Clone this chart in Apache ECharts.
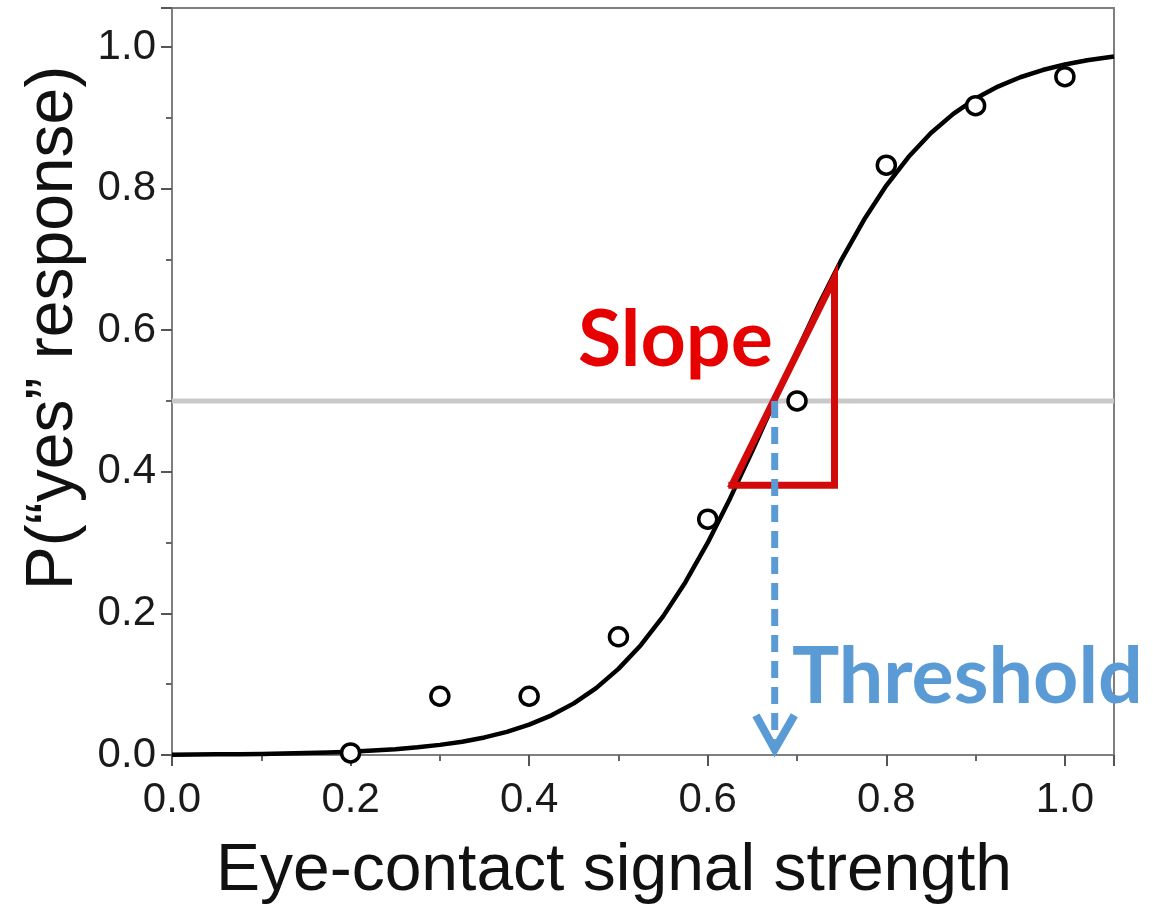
<!DOCTYPE html>
<html><head><meta charset="utf-8">
<script src="https://cdn.jsdelivr.net/npm/echarts@6/dist/echarts.min.js"></script>
<style>html,body{margin:0;padding:0;background:#fff}#c{width:1153px;height:908px}</style>
</head><body><div id="c"></div>
<script>
// ---- data ----
const axisMax = 1.055;
const tickStep = 0.2;
const xTitle = 'Eye-contact signal strength';
const yTitle = 'P(\u201cyes\u201d response)';
const pointX = [0.2, 0.3, 0.4, 0.5, 0.6, 0.7, 0.8, 0.9, 1.0];
const pointY = [0.003, 0.083, 0.083, 0.167, 0.333, 0.5, 0.833, 0.917, 0.958];
const curveX = [0.0, 0.025, 0.05, 0.075, 0.1, 0.125, 0.15, 0.175, 0.2, 0.225, 0.25, 0.275, 0.3, 0.325, 0.35, 0.375, 0.4, 0.425, 0.45, 0.475, 0.5, 0.525, 0.55, 0.575, 0.6, 0.625, 0.65, 0.675, 0.7, 0.725, 0.75, 0.775, 0.8, 0.825, 0.85, 0.875, 0.9, 0.925, 0.95, 0.975, 1.0, 1.025, 1.055];
const curveY = [0.0005, 0.0007, 0.0009, 0.0011, 0.0015, 0.0020, 0.0027, 0.0035, 0.0046, 0.0062, 0.0081, 0.0108, 0.0143, 0.0188, 0.0248, 0.0326, 0.0428, 0.0560, 0.0729, 0.0945, 0.1216, 0.1551, 0.1958, 0.2441, 0.2999, 0.3624, 0.4298, 0.5000, 0.5702, 0.6376, 0.7001, 0.7559, 0.8042, 0.8449, 0.8784, 0.9055, 0.9271, 0.9440, 0.9572, 0.9674, 0.9752, 0.9812, 0.9865];
const thresholdX = 0.675;
const thresholdY = 0.5;
const slopeX = [0.627, 0.742, 0.742, 0.627];
const slopeY = [0.381, 0.674, 0.381, 0.381];
const arrowX = [0.654, 0.675, 0.697];
const arrowY = [0.056, 0.008, 0.056];
const dashEndY = 0.02;

const chart = echarts.init(document.getElementById('c'), null, {renderer: 'canvas'});
const zip = (xs, ys) => xs.map((x, i) => [x, ys[i]]);
const fontAxis = '"Liberation Sans", Arial, sans-serif';
const isTick = v => Math.abs(v / tickStep - Math.round(v / tickStep)) < 1e-6;

const axisCommon = {
  type: 'value', min: 0, max: axisMax, interval: tickStep,
  axisLine: {show: true, lineStyle: {color: '#7f7f7f', width: 2}},
  axisTick: {show: true, length: 11, lineStyle: {color: '#555', width: 2}},
  minorTick: {show: true, splitNumber: 2, length: 6, lineStyle: {color: '#666', width: 2}},
  splitLine: {show: false},
  minorSplitLine: {show: false},
  axisLabel: {
    fontSize: 42, color: '#1a1a1a', fontFamily: fontAxis, showMaxLabel: false,
    formatter: v => isTick(v) ? v.toFixed(1) : ''
  }
};

chart.setOption({
  animation: false,
  backgroundColor: '#fff',
  grid: {left: 172, right: 39, top: 8, bottom: 153, show: true, borderColor: '#7f7f7f', borderWidth: 2, containLabel: false, outerBoundsMode: 'none'},
  xAxis: Object.assign({}, axisCommon, {
    axisLabel: Object.assign({}, axisCommon.axisLabel, {margin: 24})
  }),
  yAxis: Object.assign({}, axisCommon, {
    axisLabel: Object.assign({}, axisCommon.axisLabel, {margin: 16})
  }),
  series: [
    {
      type: 'line', z: 1, data: [[0, thresholdY], [axisMax, thresholdY]],
      symbol: 'none', silent: true,
      lineStyle: {color: '#c9c9c9', width: 5}
    },
    {
      type: 'line', z: 2, data: zip(curveX, curveY), smooth: false,
      symbol: 'none', lineStyle: {color: '#000', width: 4.5, join: 'round'}
    },
    {
      type: 'scatter', z: 3, data: zip(pointX, pointY), symbol: 'circle', symbolSize: 18,
      itemStyle: {color: '#fff', borderColor: '#000', borderWidth: 3.5, opacity: 1}
    },
    {
      type: 'line', z: 4, data: zip(slopeX, slopeY), symbol: 'none',
      lineStyle: {color: '#d20a0a', width: 7, join: 'miter', cap: 'square'}
    },
    {
      type: 'line', z: 5, data: [[thresholdX, thresholdY], [thresholdX, dashEndY]], symbol: 'none',
      lineStyle: {color: '#5b9bd5', width: 7, type: [17, 9]}
    },
    {
      type: 'line', z: 5, data: zip(arrowX, arrowY), symbol: 'none',
      lineStyle: {color: '#5b9bd5', width: 8, join: 'miter'}
    }
  ],
  graphic: [
    {type: 'text', x: 614, y: 872, z: 10,
      style: {text: xTitle, fill: '#111', font: '66px "Liberation Sans", Arial, sans-serif', align: 'center', verticalAlign: 'middle'}},
    {type: 'text', x: 54, y: 328, rotation: Math.PI / 2, z: 10,
      style: {text: yTitle, fill: '#111', font: '66px "Liberation Sans", Arial, sans-serif', align: 'center', verticalAlign: 'middle'}},
    {type: 'text', x: 578, y: 341, z: 10,
      style: {text: 'Slope', fill: '#e60000', font: 'bold 79px Lato, "Open Sans", sans-serif', verticalAlign: 'middle'}},
    {type: 'text', x: 792, y: 678, z: 10,
      style: {text: 'Threshold', fill: '#5b9bd5', font: 'bold 79px Lato, "Open Sans", sans-serif', verticalAlign: 'middle'}}
  ]
});
</script>
</body></html>
